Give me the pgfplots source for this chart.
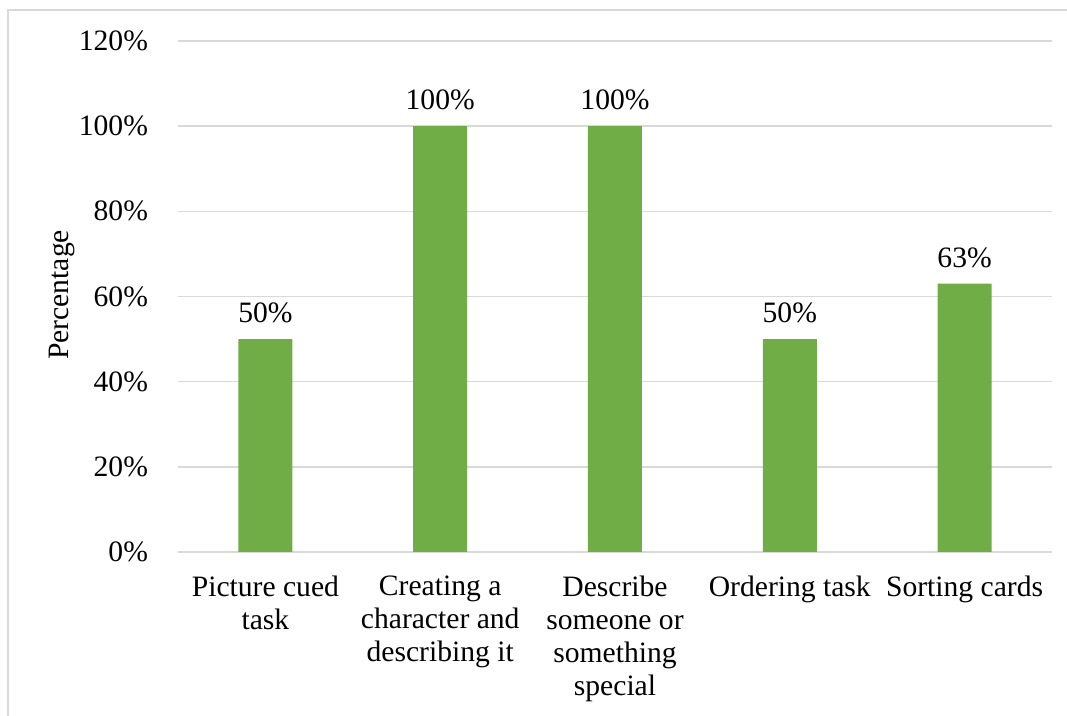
\documentclass[border=0pt]{standalone}
\usepackage{pgfplots}
\pgfplotsset{compat=1.18}
\usepackage{fontspec}
\setmainfont{Liberation Serif}
\definecolor{bargreen}{HTML}{70AD47}
\definecolor{gridgray}{HTML}{D9D9D9}
\begin{document}
\begin{tikzpicture}[font=\fontsize{14.8}{16.5}\selectfont]
\useasboundingbox (0,0) rectangle (533.5pt,358pt);
% chart frame (left and top edges)
\draw[gridgray, line width=0.8pt] (4pt,0) -- (4pt,353pt) -- (533.5pt,353pt);
\begin{axis}[
  at={(89pt,82pt)}, anchor=south west,
  scale only axis,
  width=437pt, height=255.5pt,
  xmin=-0.5, xmax=4.5,
  ymin=0, ymax=120,
  xtick={0,1,2,3,4},
  xticklabels={{Picture cued\\task},{Creating a\\character and\\describing it},{Describe\\someone or\\something\\special},{Ordering task},{Sorting cards}},
  xticklabel style={align=center, anchor=north, yshift=-8.5pt},
  ytick={0,20,...,120},
  yticklabel={\pgfmathprintnumber{\tick}\%},
  yticklabel style={xshift=-11.5pt},
  /pgf/number format/assume math mode=true,
  major tick length=0pt,
  axis line style={draw=none},
  ymajorgrids,
  grid style={gridgray, line width=0.8pt},
  ylabel={Percentage},
  ylabel style={at={(axis description cs:-0.1327,0.503)}, anchor=center},
  ybar, bar width=27pt,
  nodes near coords={\pgfmathprintnumber{\pgfplotspointmeta}\%},
  nodes near coords style={anchor=south, yshift=4.5pt},
]
\addplot[fill=bargreen, draw=none] coordinates {
  (0,50) (1,100) (2,100) (3,50) (4,63)
};
\end{axis}
\end{tikzpicture}
\end{document}
